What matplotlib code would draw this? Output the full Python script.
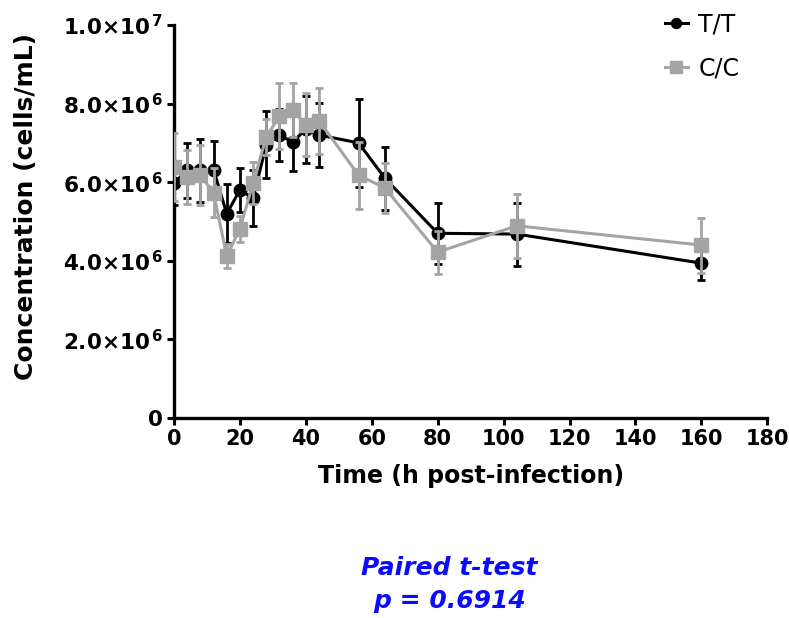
import matplotlib
matplotlib.use('Agg')
import matplotlib.pyplot as plt
from matplotlib.ticker import FixedLocator, FixedFormatter

plt.rcParams['font.family'] = ['DejaVu Sans']
plt.rcParams['mathtext.fontset'] = 'dejavusans'

# data (cells/mL)
hours = [0, 4, 8, 12, 16, 20, 24, 28, 32, 36, 40, 44, 56, 64, 80, 104, 160]
tt_mean = [5.98e6, 6.30e6, 6.30e6, 6.32e6, 5.20e6, 5.80e6, 5.60e6, 6.95e6, 7.20e6,
           7.02e6, 7.35e6, 7.20e6, 7.00e6, 6.10e6, 4.70e6, 4.68e6, 3.94e6]
tt_err = [0.55e6, 0.70e6, 0.80e6, 0.72e6, 0.75e6, 0.55e6, 0.72e6, 0.85e6, 0.65e6,
          0.74e6, 0.85e6, 0.82e6, 1.12e6, 0.80e6, 0.77e6, 0.80e6, 0.43e6]
cc_mean = [6.39e6, 6.13e6, 6.18e6, 5.73e6, 4.12e6, 4.81e6, 5.98e6, 7.15e6, 7.68e6,
           7.84e6, 7.46e6, 7.56e6, 6.18e6, 5.85e6, 4.22e6, 4.89e6, 4.40e6]
cc_err = [0.87e6, 0.68e6, 0.77e6, 0.62e6, 0.30e6, 0.33e6, 0.53e6, 0.45e6, 0.84e6,
          0.68e6, 0.80e6, 0.84e6, 0.85e6, 0.63e6, 0.55e6, 0.82e6, 0.70e6]

yticks = [0, 2e6, 4e6, 6e6, 8e6, 1e7]
ylabels = ['0', r'$\mathbf{2.0{\times}10^{\,6}}$', r'$\mathbf{4.0{\times}10^{\,6}}$',
           r'$\mathbf{6.0{\times}10^{\,6}}$', r'$\mathbf{8.0{\times}10^{\,6}}$',
           r'$\mathbf{1.0{\times}10^{\,7}}$']
xticks = list(range(0, 181, 20))

fig = plt.figure(figsize=(7.89, 6.18), dpi=100)
ax = fig.add_axes([0.2205, 0.3236, 0.752, 0.636])

gray = '#a4a4a4'
ax.errorbar(hours, tt_mean, yerr=tt_err, color='black', lw=2.2, marker='o', ms=9,
            capsize=3, elinewidth=2, capthick=2, label='T/T', zorder=3)
ax.errorbar(hours, cc_mean, yerr=cc_err, color=gray, lw=2.2, marker='s', ms=10,
            capsize=3, elinewidth=2, capthick=2, label='C/C', zorder=4)

ax.set_xlim(0, 180)
ax.set_ylim(0, 1e7)
ax.yaxis.set_major_locator(FixedLocator(yticks))
ax.yaxis.set_major_formatter(FixedFormatter(ylabels))
ax.set_xticks(xticks)

for s in ['top', 'right']:
    ax.spines[s].set_visible(False)
for s in ['left', 'bottom']:
    ax.spines[s].set_linewidth(2.4)
ax.tick_params(width=2.2, length=5, pad=3)
ax.tick_params(axis='x', labelsize=15)
ax.tick_params(axis='y', labelsize=15.5)
for lab in ax.get_xticklabels() + ax.get_yticklabels():
    lab.set_fontweight('bold')

ax.set_xlabel('Time (h post-infection)', fontsize=17, fontweight='bold', labelpad=11)
ax.set_ylabel('Concentration (cells/mL)', fontsize=18, fontweight='bold')
ax.yaxis.set_label_coords(-0.229, 0.539)

handles, labels = ax.get_legend_handles_labels()
handles = [h[0] for h in handles]
ax.legend(handles, labels, loc='upper left', bbox_to_anchor=(0.843, 0.98),
          bbox_transform=fig.transFigure, frameon=False, borderpad=0,
          borderaxespad=0, fontsize=17, handlelength=0.95, handletextpad=0.45,
          labelspacing=0.85, markerscale=0.8)

blue = '#0a0aff'
fig.text(0.570, 1 - 575 / 618, 'Paired t-test', color=blue, fontsize=18,
         fontweight='bold', style='italic', ha='center', va='baseline')
fig.text(0.570, 1 - 608 / 618, 'p = 0.6914', color=blue, fontsize=18,
         fontweight='bold', style='italic', ha='center', va='baseline')

fig.savefig('out.png', dpi=100)
